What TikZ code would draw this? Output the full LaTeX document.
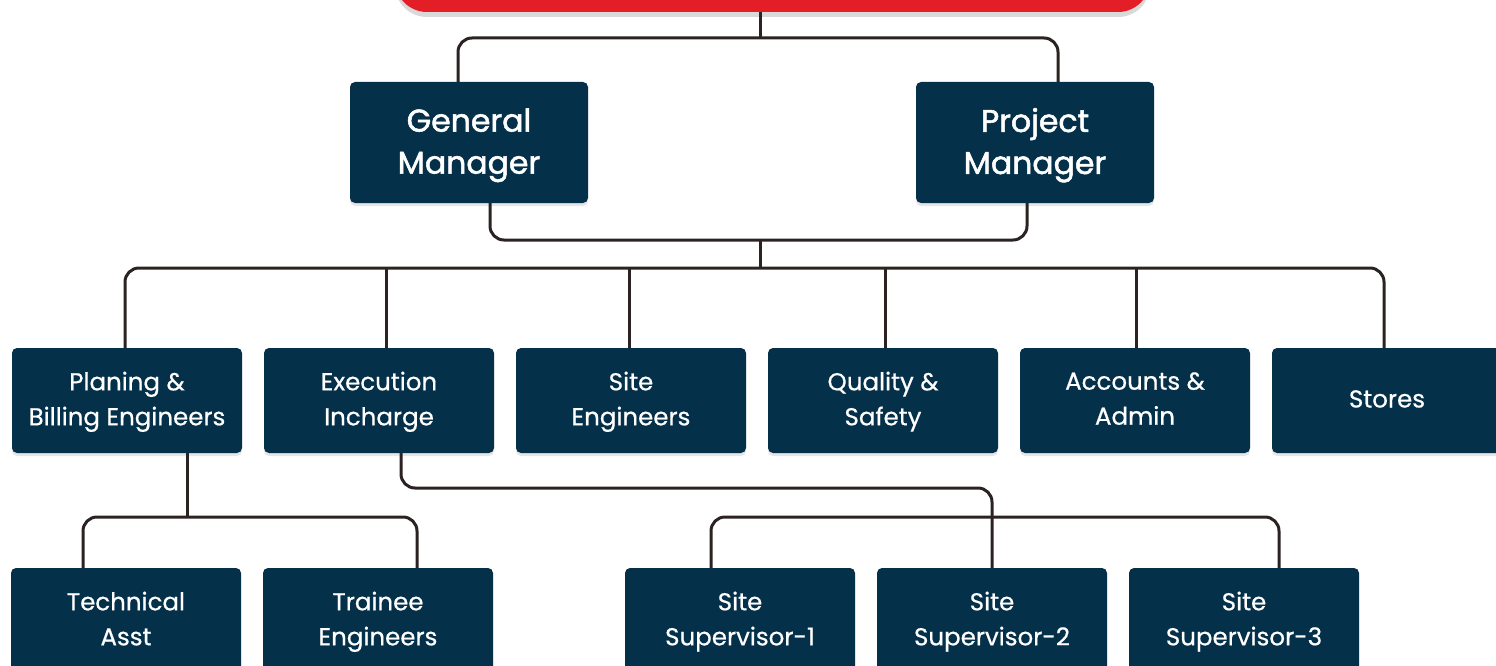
\documentclass[tikz,border=0pt]{standalone}
\usepackage{fontspec}
\setmainfont{Poppins}
\newfontfamily\bossfont{Poppins}[FakeBold=1.6]
\newfontfamily\deptfont{Poppins}[FakeBold=0.6]
\usetikzlibrary{shadows}

\definecolor{navy}{HTML}{04304A}
\definecolor{headred}{HTML}{E31E26}
\definecolor{wire}{HTML}{2B2222}

\tikzset{
	x=1pt, y=-1pt,
	card/.style = {
		fill=navy, text=white, rounded corners=5pt, align=center, inner sep=0pt,
		execute at begin node=\strut, execute at end node=\strut,
		drop shadow={opacity=0.2, shadow xshift=0pt, shadow yshift=-3pt}
	},
	boss/.style = {card, minimum width=238pt, minimum height=121pt, text depth=3pt,
		font=\bossfont\fontsize{31.5}{42}\selectfont},
	dept/.style = {card, minimum width=230pt, minimum height=105pt, text depth=4pt,
		font=\deptfont\fontsize{24.5}{35}\selectfont},
	link/.style = {draw=wire, line width=3pt, rounded corners=14pt}
}

\begin{document}
\begin{tikzpicture}
	\clip (0,0) rectangle (1496,666);
	% top banner, cut off by the page edge
	\fill [headred, rounded corners=32pt, drop shadow={opacity=0.3, shadow xshift=0pt, shadow yshift=-5pt}]
		(395,-80) rectangle (1150,12);
	\coordinate (head) at (760,12);

	\node [boss] (gm) at (469,142.5) {General\\Manager};
	\node [boss] (pm) at (1035,142.5) {Project\\Manager};

	\node [dept] (plan)     at (127,400.5) {Planing \&\\Billing Engineers};
	\node [dept] (exec)     at (379,400.5) {Execution\\Incharge};
	\node [dept] (site)     at (631,400.5) {Site\\Engineers};
	\node [dept] (quality)  at (883,400.5) {Quality \&\\Safety};
	\node [dept] (accounts) at (1135,400.5) {Accounts \&\\Admin};
	\node [dept, text depth=10.5pt] (stores) at (1387,400.5) {Stores};

	\node [dept] (tech)    at (126,620.5) {Technical\\Asst};
	\node [dept] (trainee) at (378,620.5) {Trainee\\Engineers};
	\node [dept] (sup1)    at (740,620.5) {Site\\Supervisor-1};
	\node [dept] (sup2)    at (992,620.5) {Site\\Supervisor-2};
	\node [dept] (sup3)    at (1244,620.5) {Site\\Supervisor-3};

	% junctions
	\coordinate (top) at (760,38);
	\coordinate (mid) at (760,240);
	\coordinate (bus) at (760,268);
	\coordinate (pb)  at (187,517);
	\coordinate (eb)  at (992,488);
	\coordinate (sb)  at (992,517);

	\draw [link] (head) -- (top);
	\draw [link] (gm.north -| 458,0) |- (top) -| (pm.north -| 1058,0);
	\draw [link] (gm.south -| 490,0) |- (mid) -| (pm.south -| 1027,0);
	\draw [link] (mid) -- (bus);
	\draw [link] (plan.north -| 125,0) |- (bus) -| (stores.north -| 1384,0);
	\draw [link] (exec.north -| 386,0) -- (386,0 |- bus);
	\draw [link] (site.north -| 629,0) -- (629,0 |- bus);
	\draw [link] (quality.north -| 885,0) -- (885,0 |- bus);
	\draw [link] (accounts.north -| 1136,0) -- (1136,0 |- bus);

	\draw [link] (plan.south -| pb) -- (pb);
	\draw [link] (tech.north -| 83,0) |- (pb) -| (trainee.north -| 417,0);
	\draw [link] (exec.south -| 401,0) |- (eb) -- (sup2.north);
	\draw [link] (sup1.north -| 711,0) |- (sb) -| (sup3.north -| 1279,0);
\end{tikzpicture}
\end{document}
